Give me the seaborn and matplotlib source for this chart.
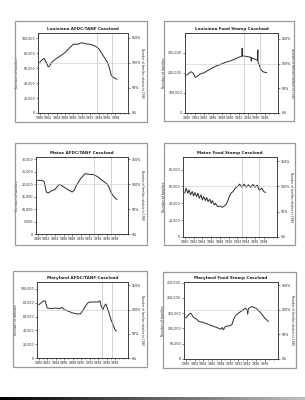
import numpy as np
import matplotlib
matplotlib.use("Agg")
import matplotlib.pyplot as plt
import seaborn as sns
from matplotlib.patches import Rectangle
from matplotlib.ticker import FuncFormatter, MultipleLocator

W, H = 305, 400

# Louisiana AFDC/TANF caseload (families)
la_afdc_yr = [1980, 1980.5, 1981, 1981.5, 1982, 1982.3, 1983, 1984, 1985, 1986, 1987, 1988,
              1989, 1990, 1991, 1992, 1993, 1994, 1995, 1996, 1996.5, 1997, 1997.5, 1998, 1998.4]
la_afdc_val = [67700, 70800, 73000, 68600, 62000, 62500, 68600, 73000, 76700, 80700, 86500, 92000,
               92000, 94000, 92400, 92000, 90000, 86500, 77600, 68600, 62000, 50700, 47500, 46200, 45000]

# Louisiana food stamp caseload (households)
la_fs_yr = [1980, 1980.5, 1981, 1981.5, 1982, 1982.5, 1983, 1984, 1985, 1986, 1987, 1988, 1989,
            1990, 1991, 1992, 1992.7, 1992.75, 1992.8, 1993, 1994, 1994.8, 1994.85, 1994.9, 1995.5,
            1996.3, 1996.35, 1996.4, 1996.6, 1997, 1997.5, 1998, 1998.4]
la_fs_val = [188000, 197000, 205000, 197000, 177000, 183000, 193000, 200000, 213000, 225000,
             235000, 243000, 252000, 258000, 267000, 277000, 281000, 322000, 284000, 283000,
             280000, 276000, 258000, 274000, 268000, 262000, 313000, 250000, 243000, 218000,
             205000, 202000, 200000]

# Maine AFDC/TANF caseload
me_afdc_yr = [1980, 1981, 1981.5, 1982, 1982.5, 1983, 1984, 1984.5, 1985, 1985.5, 1986, 1987,
              1988, 1988.5, 1989, 1990, 1991, 1992, 1993, 1994, 1995, 1996, 1996.5, 1997,
              1997.5, 1998, 1998.4]
me_afdc_val = [21600, 21600, 21000, 16900, 16500, 17200, 17900, 19000, 20000, 19600, 19000, 17900,
               16900, 17600, 19600, 22300, 24300, 24000, 23900, 23000, 21600, 20300, 19200, 16900,
               15500, 14500, 13900]

# Maine food stamp caseload
me_fs_yr = [1980, 1980.3, 1980.7, 1981, 1981.3, 1981.7, 1982, 1982.3, 1982.7, 1983, 1983.3, 1983.7,
            1984, 1984.3, 1984.7, 1985, 1985.3, 1985.7, 1986, 1986.3, 1986.7, 1987, 1987.5, 1988,
            1988.5, 1989, 1989.5, 1990, 1990.5, 1991, 1991.5, 1992, 1992.5, 1993, 1993.5, 1994,
            1994.5, 1995, 1995.5, 1996, 1996.5, 1997, 1997.5, 1998, 1998.4]
me_fs_val = [52000, 58000, 52000, 56000, 50000, 54000, 48800, 52800, 48000, 52000, 46000, 50000,
             44000, 48000, 43200, 46800, 42000, 44800, 40000, 43200, 38000, 40000, 36000, 36800,
             35200, 36800, 39200, 46000, 52000, 54000, 58000, 60000, 62800, 59200, 62800, 59200,
             62000, 58800, 62400, 59200, 61600, 55200, 58000, 54000, 52800]

# Maryland AFDC/TANF caseload
md_afdc_yr = [1980, 1980.5, 1981, 1981.5, 1982, 1983, 1984, 1985, 1985.5, 1986, 1987, 1988, 1989,
              1989.8, 1990.5, 1991, 1991.5, 1992, 1993, 1994, 1994.4, 1994.7, 1995.1, 1995.5,
              1995.8, 1996.4, 1997, 1997.6, 1998, 1998.3]
md_afdc_val = [77100, 79500, 81900, 82900, 72400, 71400, 72400, 71400, 73300, 70000, 67600, 65200,
               63800, 63800, 70000, 75000, 79500, 81000, 81000, 81000, 82900, 75000, 70000, 76000,
               78100, 67600, 55700, 46200, 40000, 39000]

# Maryland food stamp caseload
md_fs_yr = [1980, 1980.5, 1981, 1981.3, 1981.6, 1982, 1982.5, 1983, 1984, 1985, 1986, 1987, 1988,
            1988.3, 1988.6, 1989, 1990, 1990.5, 1991, 1991.5, 1992, 1992.5, 1993, 1993.6, 1994.0,
            1994.1, 1994.3, 1995, 1996, 1997, 1998, 1998.8]
md_fs_val = [133700, 142400, 150000, 147800, 139100, 133700, 130400, 122800, 119600, 114100,
             108700, 103300, 97800, 103300, 95700, 106500, 108700, 112000, 133700, 144600, 150000,
             155400, 160000, 166300, 160000, 146700, 165000, 171700, 166300, 152200, 133700, 122800]

titles = ["Louisiana AFDC/TANF Caseload", "Louisiana Food Stamp Caseload",
          "Maine AFDC/TANF Caseload", "Maine Food Stamp Caseload",
          "Maryland AFDC/TANF Caseload", "Maryland Food Stamp Caseload"]
series = [(la_afdc_yr, la_afdc_val), (la_fs_yr, la_fs_val), (me_afdc_yr, me_afdc_val),
          (me_fs_yr, me_fs_val), (md_afdc_yr, md_afdc_val), (md_fs_yr, md_fs_val)]
# value that equals 100% on the right axis
base_val = [67000, 245000, 20000, 60000, 70000, 161000]
y_top = [107000, 397000, 31000, 95000, 110000, 252000]
y_step = [20000, 100000, 5000, 20000, 20000, 50000]
y_last = [100000, 300000, 30000, 80000, 100000, 250000]
event_yr = [[1993.6, 1997.2], [1993.2, 1996.8], [1993.2, 1997.0],
            [1993.0, 1996.8], [1994.8, 1997.2], []]

sns.set_style("white")
plt.rcParams["font.family"] = ["DejaVu Sans"]

fig = plt.figure(figsize=(W / 100, H / 100), dpi=100)
fig.patch.set_facecolor("white")

boxes = [(15, 21, 147, 122), (164, 21, 294, 121), (15, 143, 147, 245),
         (164, 143, 295, 245), (13, 271, 147, 367), (163, 272, 296, 368)]
plots = [(38, 33, 128, 113), (185, 33, 278, 113), (36, 157, 128, 234),
         (183, 157, 277, 237), (37, 282, 128, 358), (184, 282, 278, 359)]


def frac(r):
    x0, y0, x1, y1 = r
    return [x0 / W, 1 - y1 / H, (x1 - x0) / W, (y1 - y0) / H]


for i in range(6):
    b = frac(boxes[i])
    fig.add_artist(Rectangle((b[0], b[1]), b[2], b[3], transform=fig.transFigure,
                             fill=False, ec="#9a9a9a", lw=0.9))
    ax = fig.add_axes(frac(plots[i]))
    yr, val = series[i]
    sns.lineplot(x=yr, y=val, ax=ax, color="#2a2a2a", lw=0.7)
    for ev in event_yr[i]:
        ax.axvline(ev, color="#b0b0b0", lw=0.4)
    ax.set_xlim(1979.6, 2001)
    ax.set_ylim(0, y_top[i])
    ax.set_xticks(range(1980, 1999, 2))
    ax.xaxis.set_minor_locator(MultipleLocator(1))
    ax.set_yticks(np.arange(0, y_last[i] + 1, y_step[i]))
    ax.yaxis.set_major_formatter(FuncFormatter(lambda v, p: f"{v:,.0f}"))
    ax.tick_params(axis="both", labelsize=2.3, length=1.2, width=0.4, pad=1)
    ax.tick_params(axis="x", which="minor", length=1.0, width=0.4, bottom=True)
    ax.tick_params(axis="x", bottom=True)
    ax.tick_params(axis="y", left=True)
    for s in ax.spines.values():
        s.set_linewidth(0.5)
        s.set_color("#333333")
    ax.set_ylabel("Number of families", fontsize=2.3, labelpad=1.5)
    ax.set_title(titles[i], fontsize=3.0, pad=2, fontweight="bold", color="#222222")

    ax2 = ax.twinx()
    ax2.set_ylim(0, y_top[i] / base_val[i])
    ax2.set_yticks([0, 0.5, 1.0, 1.5])
    ax2.set_yticklabels(["0%", "50%", "100%", "150%"])
    ax2.axhline(1.0, color="#c8c8c8", lw=0.4, zorder=0)
    ax2.tick_params(axis="y", labelsize=2.3, length=1.2, width=0.4, pad=1.5, right=True)
    ax2.set_ylabel("Number of families relative to 1990", fontsize=2.1,
                   rotation=270, labelpad=2.5)
    for s in ax2.spines.values():
        s.set_linewidth(0.5)
        s.set_color("#333333")

# dark scan edge along the bottom of the page
edge = fig.add_axes([0, 0, 1, 3 / H])
edge.imshow(np.linspace(0.0, 0.75, 200)[None, :], cmap="gray", aspect="auto", vmin=0, vmax=1)
edge.set_axis_off()

fig.savefig("out.png", dpi=100, facecolor="white")
